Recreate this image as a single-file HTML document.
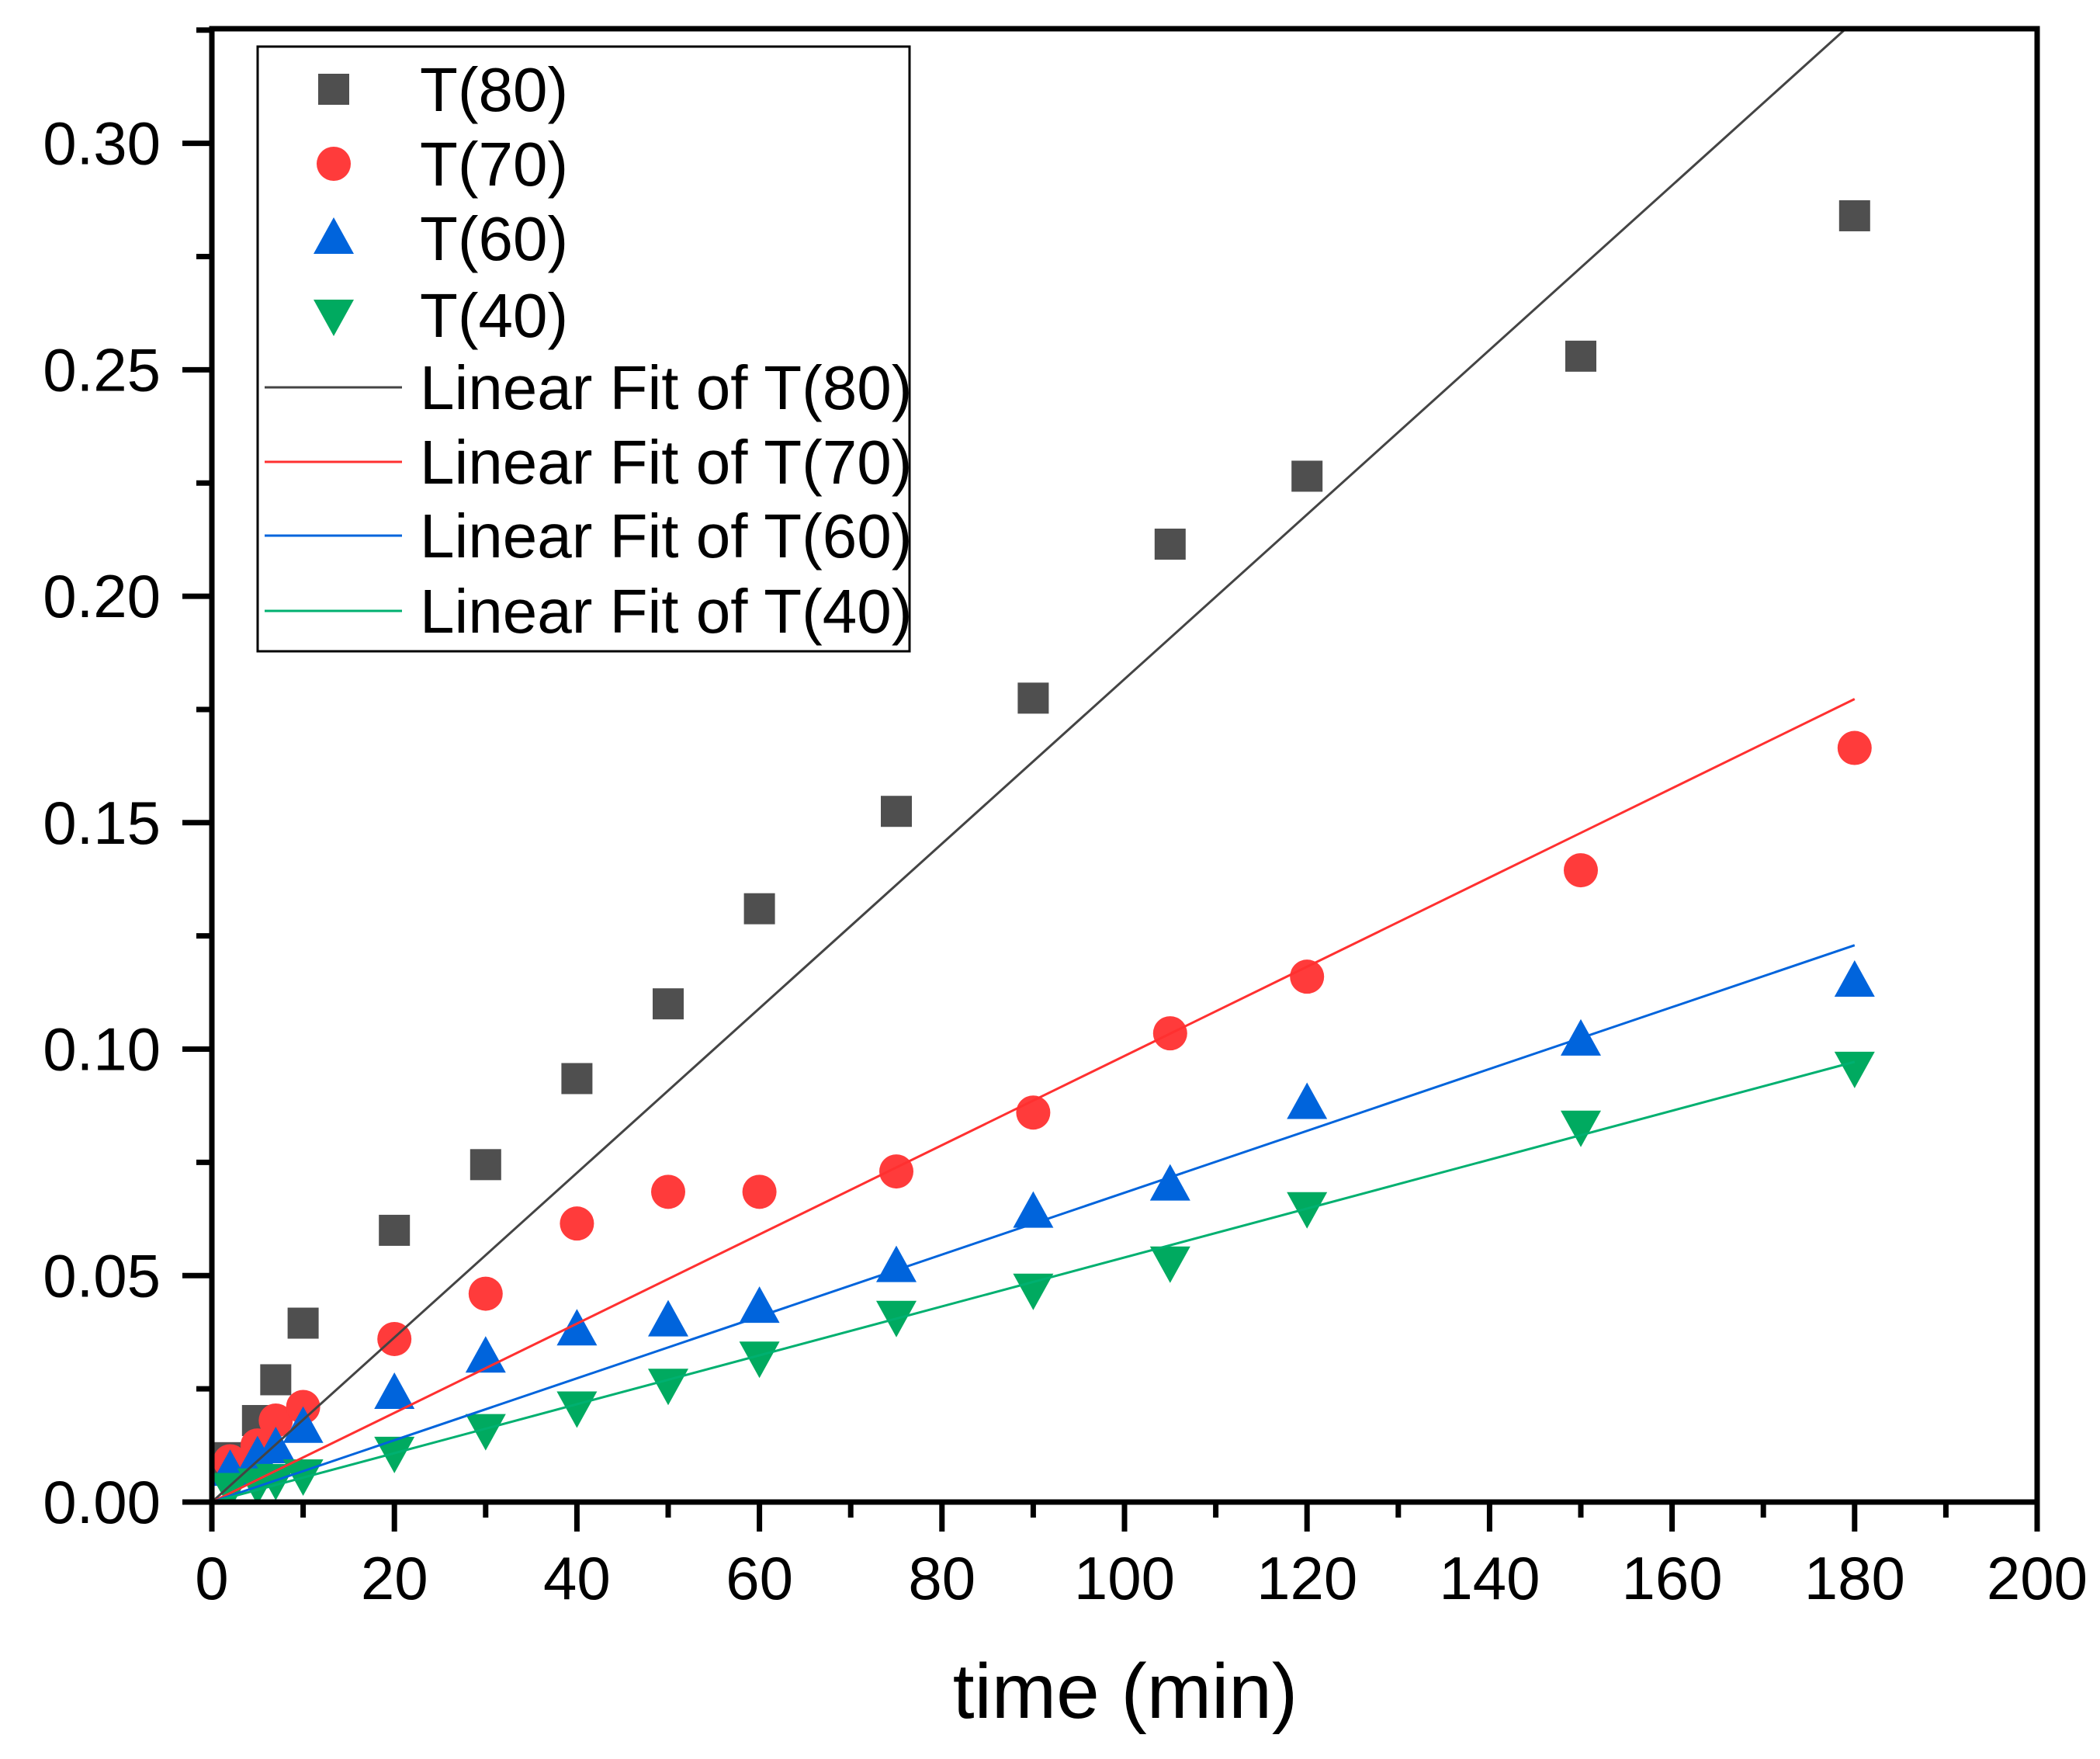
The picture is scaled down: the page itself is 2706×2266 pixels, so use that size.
<!DOCTYPE html>
<html><head><meta charset="utf-8"><style>
html,body{margin:0;padding:0;background:#fff;}
svg{display:block;font-family:"Liberation Sans",Arial,sans-serif;}
</style></head><body>
<svg id="chart" width="2706" height="2266" xmlns="http://www.w3.org/2000/svg">
<rect x="0" y="0" width="2706" height="2266" fill="#fff"/>
<defs><clipPath id="plotclip"><rect x="273" y="37" width="2352" height="1898"/></clipPath></defs>
<g id="marks" clip-path="url(#plotclip)"></g>
<g id="axes"></g>
<g id="legend"></g>
</svg>
<script>
const xs80 = [2,5,7,10,20,30,40,50,60,75,90,105,120,150,180];
const t80 = [0.0098,0.018,0.027,0.0395,0.060,0.0745,0.0935,0.110,0.131,0.1525,0.1775,0.2115,0.2265,0.253,0.284];
const t70 = [0.009,0.0125,0.018,0.021,0.036,0.046,0.0615,0.0685,0.0685,0.073,0.086,0.1035,0.116,0.1395,0.1665];
const t60 = [0.007,0.010,0.012,0.0165,0.024,0.032,0.038,0.040,0.043,0.052,0.064,0.070,0.088,0.102,0.115];
const t40 = [0.003,0.004,0.005,0.006,0.011,0.016,0.021,0.026,0.032,0.041,0.047,0.053,0.065,0.083,0.096];
const fitSlopes = [0.001817,0.000985,0.000683,0.00054];
const fitIntercepts = [0,0,0,0];
const fitRange = [0,180];
const seriesNames = ["T(80)","T(70)","T(60)","T(40)"];
const xTicks = [0,20,40,60,80,100,120,140,160,180,200];
const yTicks = [0.00,0.05,0.10,0.15,0.20,0.25,0.30];

const NS="http://www.w3.org/2000/svg";
const L=273,R=2625,T=37,B=1935;
const xMin=0,xMax=200,yMin=0,yMax=0.3253;
function X(v){return L+(v-xMin)/(xMax-xMin)*(R-L);}
function Y(v){return B-(v-yMin)/(yMax-yMin)*(B-T);}
function mk(tag,attrs,parent){const e=document.createElementNS(NS,tag);for(const k in attrs)e.setAttribute(k,attrs[k]);parent.appendChild(e);return e;}
const colors=["#4f4f4f","#ff3b3b","#0064dc","#00aa60"];
const lineColors=["#444","#ff3030","#0064dc","#00b070"];
const marks=document.getElementById('marks');
const axes=document.getElementById('axes');
const legend=document.getElementById('legend');

function marker(i,cx,cy,parent,name){
  let e;
  if(i===0){e=mk('rect',{x:cx-20,y:cy-20,width:40,height:40,fill:colors[0]},parent);}
  else if(i===1){e=mk('circle',{cx:cx,cy:cy,r:22,fill:colors[1]},parent);}
  else if(i===2){e=mk('polygon',{points:`${cx},${cy-27} ${cx+26},${cy+20} ${cx-26},${cy+20}`,fill:colors[2]},parent);}
  else {e=mk('polygon',{points:`${cx},${cy+27} ${cx+26},${cy-20} ${cx-26},${cy-20}`,fill:colors[3]},parent);}
  
  
  return e;
}
const series=[t80,t70,t60,t40];
series.forEach((arr,i)=>{
  arr.forEach((v,j)=>{ marker(i,X(xs80[j]),Y(v),marks,'point-'+seriesNames[i].replace(/[()]/g,'')+'-'+xs80[j]); });
});
fitSlopes.forEach((s,i)=>{
  const l=mk('line',{x1:X(fitRange[0]),y1:Y(fitIntercepts[i]+s*fitRange[0]),x2:X(fitRange[1]),y2:Y(fitIntercepts[i]+s*fitRange[1]),stroke:lineColors[i],'stroke-width':3},marks);
  
  
});

const fr=mk('rect',{x:L,y:T,width:R-L,height:B-T,fill:'none',stroke:'#000','stroke-width':7},axes);


xTicks.forEach((v,k)=>{
  const t=mk('line',{x1:X(v),y1:B,x2:X(v),y2:B+38,stroke:'#000','stroke-width':7},axes);
  
  
  if(k<xTicks.length-1){
    const m=mk('line',{x1:X(v+10),y1:B,x2:X(v+10),y2:B+20,stroke:'#000','stroke-width':7},axes);
    
    
  }
  const tx=mk('text',{x:X(v),y:2060,'font-size':78,'text-anchor':'middle',fill:'#000'},axes);
  tx.textContent=String(v);
  
  
});
yTicks.forEach((v,k)=>{
  const t=mk('line',{x1:L,y1:Y(v),x2:L-38,y2:Y(v),stroke:'#000','stroke-width':7},axes);
  
  
  const mv=v+0.025;
  if(mv<yMax){
    const m=mk('line',{x1:L,y1:Y(mv),x2:L-20,y2:Y(mv),stroke:'#000','stroke-width':7},axes);
    
    
  }
  const tx=mk('text',{x:207,y:Y(v)+27,'font-size':78,'text-anchor':'end',fill:'#000'},axes);
  tx.textContent=v.toFixed(2);
  
  
});
const xt=mk('text',{x:1450,y:2213,'font-size':100,'text-anchor':'middle',fill:'#000'},axes);
xt.textContent='time (min)';



const lb=mk('rect',{x:332,y:60,width:840,height:779,fill:'#fff',stroke:'#000','stroke-width':3},legend);


const rowsY=[115,211,307,406,499,595,690,787];
seriesNames.forEach((n,i)=>{
  marker(i,430,rowsY[i],legend,'legend-marker-'+n.replace(/[()]/g,''));
  const t=mk('text',{x:541,y:rowsY[i]+28,'font-size':80,fill:'#000'},legend);
  t.textContent=n;
  
  
  const ly=rowsY[i+4];
  const l=mk('line',{x1:341,y1:ly,x2:518,y2:ly,stroke:lineColors[i],'stroke-width':3},legend);
  
  
  const t2=mk('text',{x:541,y:ly+28,'font-size':80,fill:'#000'},legend);
  t2.textContent='Linear Fit of '+n;
  
  
});
</script>
</body></html>
